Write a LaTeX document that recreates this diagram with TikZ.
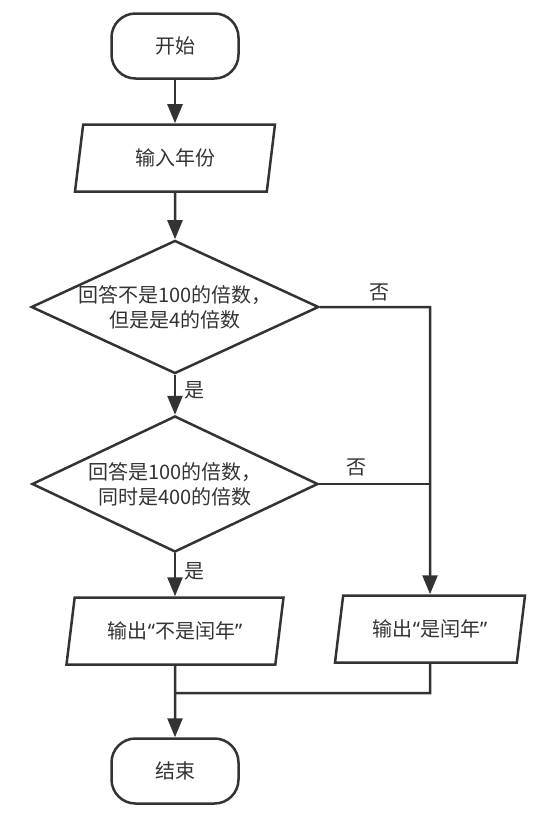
\documentclass[tikz,border=0pt]{standalone}
\usepackage{fontspec}
\setmainfont{Noto Sans CJK SC}
\newfontfamily\quotefont{Noto Sans}
\usepackage{tikz}
\usetikzlibrary{arrows.meta,shapes.geometric}
\definecolor{flowline}{HTML}{333333}
\newcommand{\openq}{{\quotefont “}}
\newcommand{\closeq}{{\quotefont ”}}

\begin{document}
\begin{tikzpicture}[x=1pt,y=-1pt,line width=2.5pt,draw=flowline,text=flowline,
  every node/.style={font=\fontsize{20pt}{25pt}\selectfont},
  terminal/.style={draw,rectangle,rounded corners=24pt,minimum width=127pt,minimum height=65pt},
  iobox/.style={draw,trapezium,trapezium left angle=72,trapezium right angle=108,
    trapezium stretches body,minimum height=67pt},
  decision/.style={draw,diamond,aspect=2.16,inner sep=0pt,align=center},
  flow/.style={-{Triangle[length=19pt,width=15pt]}}]
  \useasboundingbox (0,0) rectangle (558,822);
  % Start and input
  \node[terminal] (start) at (175,46) {开始};
  \node[iobox,minimum width=200pt] (input) at (175,158) {输入年份};
  % Decisions
  \node[decision,minimum width=283pt,minimum height=131pt] (dec1) at (175,307)
    {回答不是100的倍数，\\但是是4的倍数};
  \node[decision,minimum width=286pt,minimum height=136pt] (dec2) at (175,484)
    {回答是100的倍数，\\同时是400的倍数};
  % Outputs
  \node[iobox,minimum width=217pt] (outno) at (175,631) {输出\openq 不是闰年\closeq};
  \node[iobox,minimum width=190pt] (outyes) at (430,629) {输出\openq 是闰年\closeq};
  % End
  \node[terminal] (end) at (175,771) {结束};

  % Junctions
  \coordinate (j1) at (430,307);
  \coordinate (j2) at (430,484);
  \coordinate (m1) at (430,693);
  \coordinate (m2) at (175,693);

  % Connectors
  \draw[flow] (start) -- (input);
  \draw[flow] (input) -- (dec1);
  \draw[flow] (dec1) -- (dec2);
  \draw[flow] (dec2) -- (outno);
  \draw[flow] (dec1.east) -- (j1) -- (outyes.north);
  \draw (dec2.east) -- (j2);
  \draw (outyes.south) -- (m1) -- (m2);
  \draw[flow] (outno) -- (end);

  % Labels
  \node (no1) at (379,292) {否};
  \node (no2) at (356,467) {否};
  \node (yes1) at (194,390) {是};
  \node (yes2) at (194,571) {是};
\end{tikzpicture}
\end{document}
